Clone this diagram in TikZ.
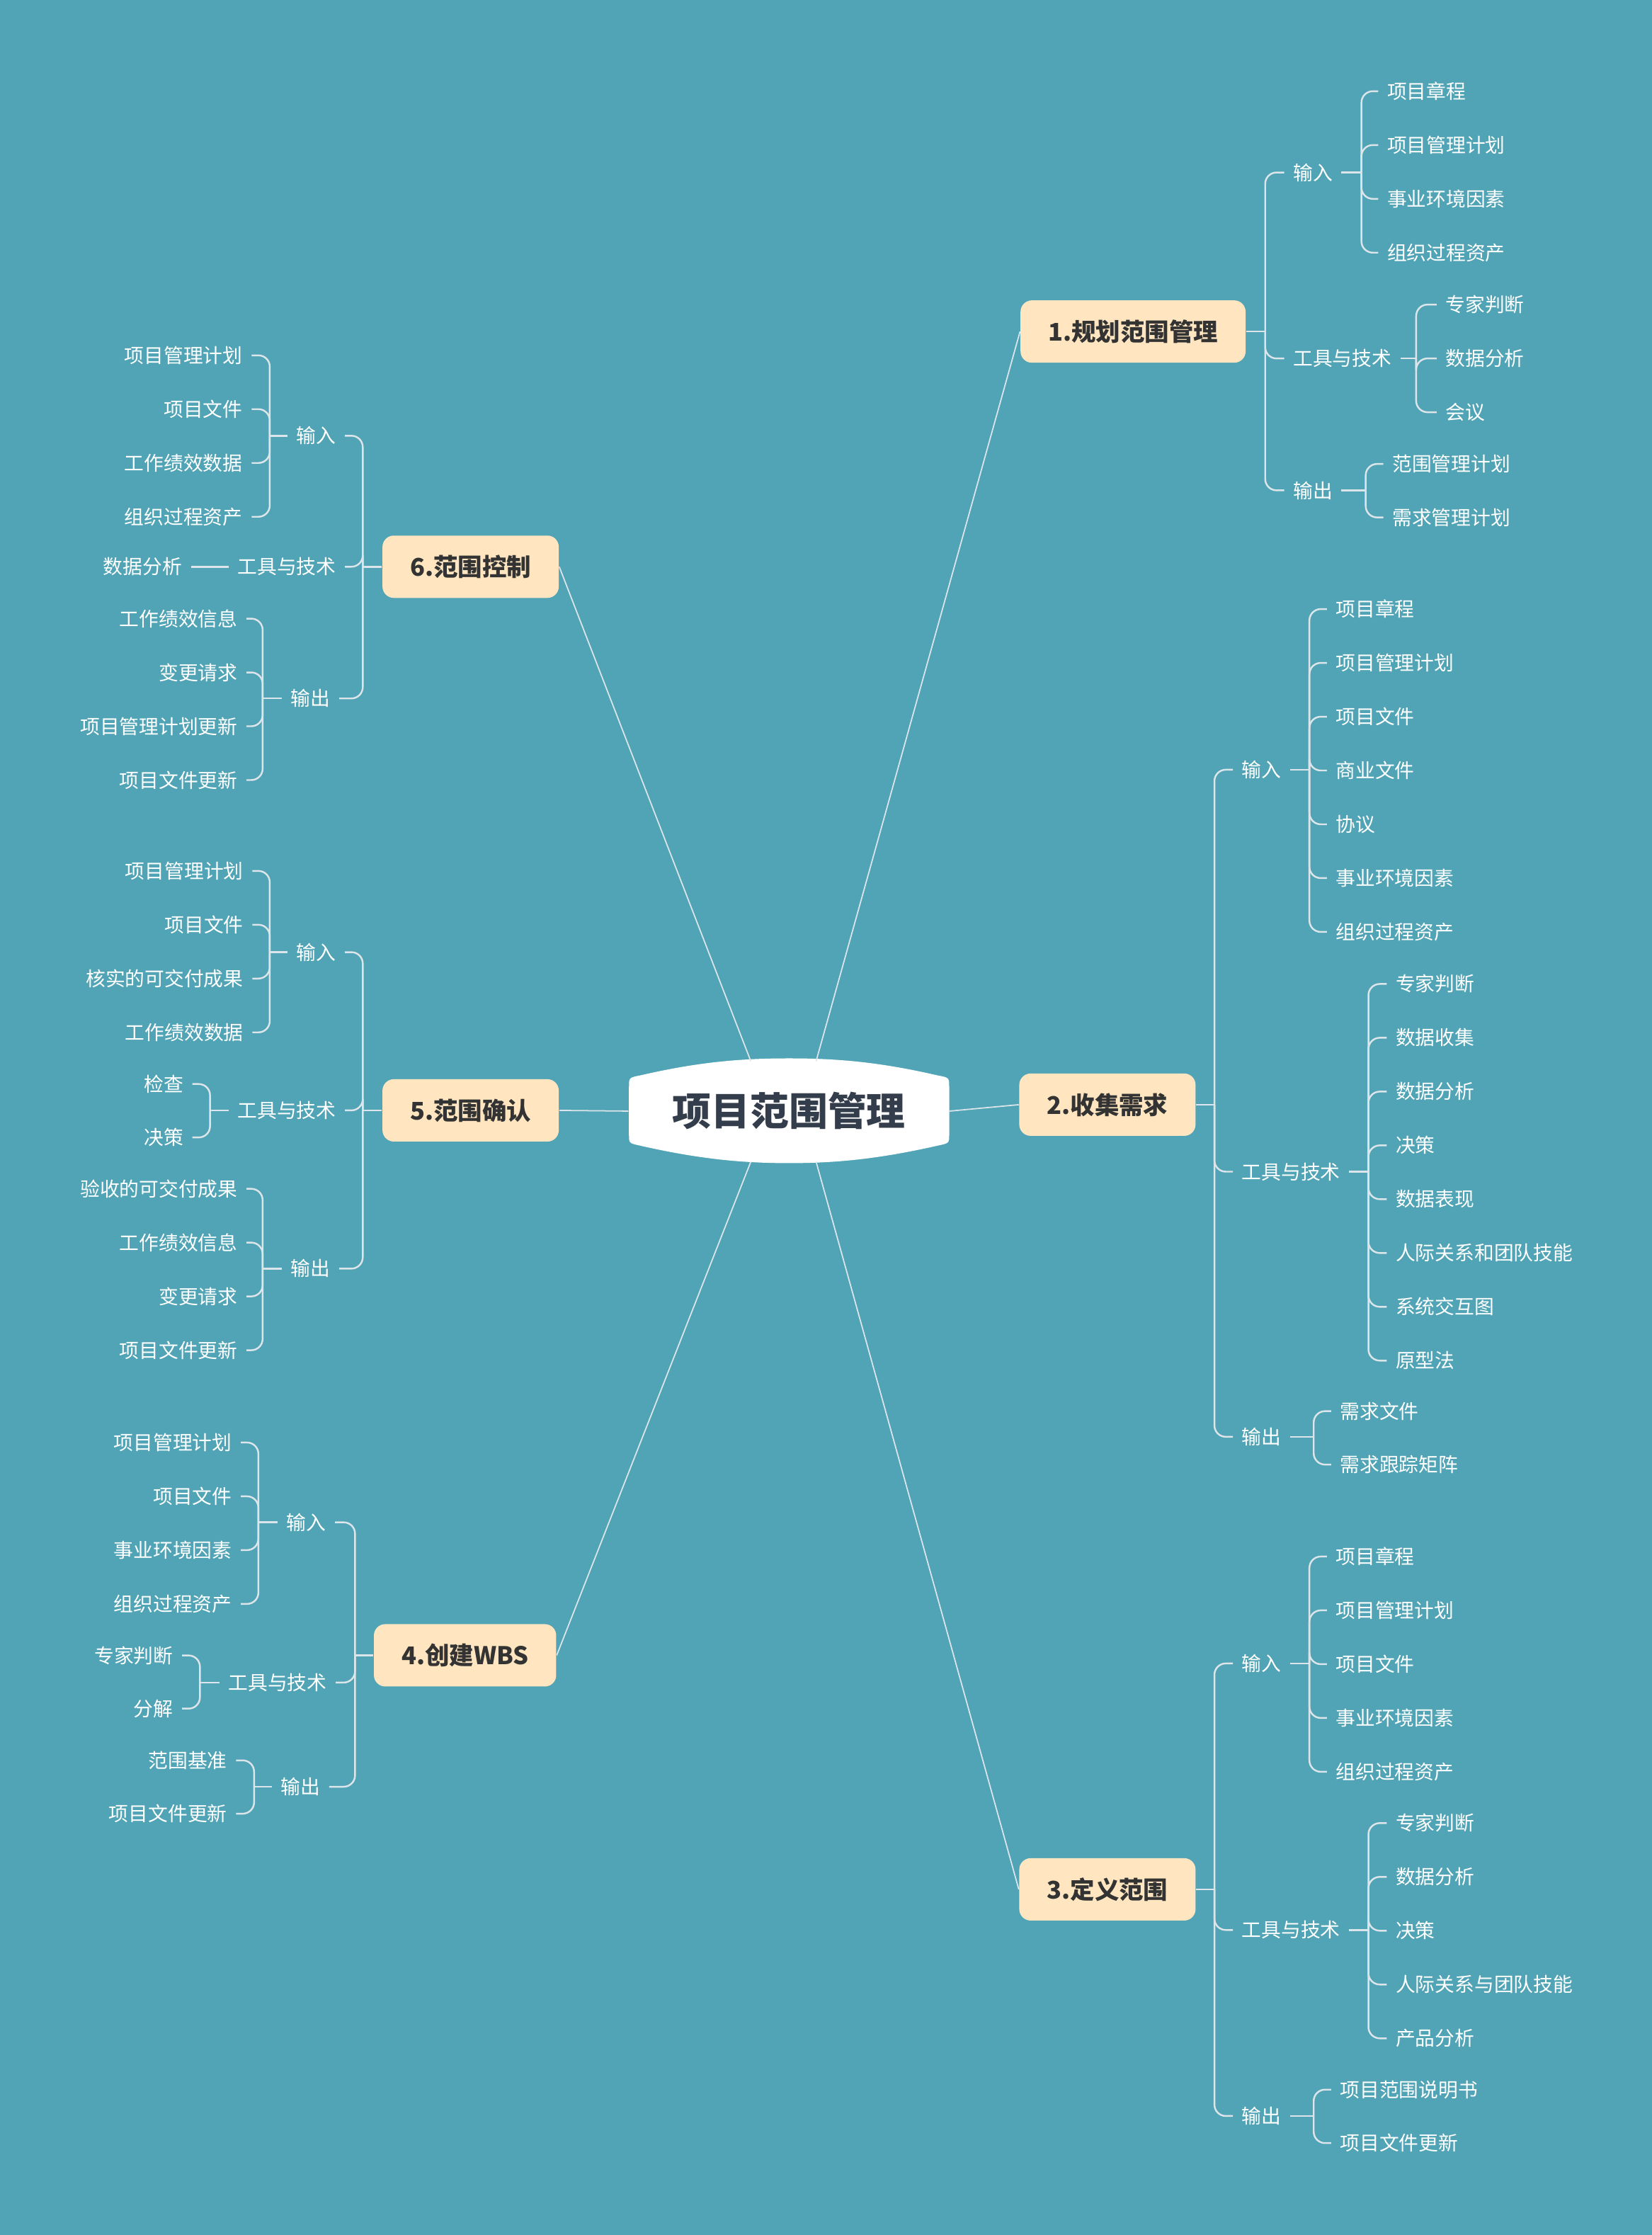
\documentclass[tikz,border=0pt]{standalone}
\usepackage{fontspec}
\setmainfont{Noto Sans CJK SC}
\definecolor{sea}{HTML}{51A4B5}
\definecolor{peach}{HTML}{FFE6C0}
\definecolor{ink}{HTML}{333333}
\definecolor{slate}{HTML}{343D4B}
\definecolor{wire}{HTML}{DCE5E9}

\begin{document}
\begin{tikzpicture}[x=0.2012mm,y=-0.2012mm]
  \tikzstyle{topic}=[minimum width=45.2mm,text=slate,font=\fontsize{15.6pt}{18pt}\selectfont\bfseries]
  \tikzstyle{stage}=[fill=peach,rounded corners=1.6mm,minimum height=8.8mm,inner xsep=3.9mm,text=ink,font=\fontsize{9.8pt}{11pt}\selectfont\bfseries]
  \tikzstyle{part}=[inner xsep=1.2mm,inner ysep=0.5mm,text=white,font=\fontsize{7.9pt}{9pt}\selectfont]
  \tikzstyle{trunk}=[wire,line width=0.5pt]
  \tikzstyle{tie}=[wire,line width=0.7pt,rounded corners=1.6mm]

  \fill[sea] (0,0) rectangle (1159,1568);
  \useasboundingbox (0,0) rectangle (1159,1568);

  \fill[white] (441.3,763) .. controls (441.3,756) .. (449,754.5)
    .. controls (490,745) and (520,742.5) .. (553.6,742.5)
    .. controls (587,742.5) and (617,745) .. (658,754.5)
    .. controls (666,756) .. (666,763) -- (666,796)
    .. controls (666,802) .. (658,803.7)
    .. controls (617,813) and (587,816) .. (553.6,816)
    .. controls (520,816) and (490,813) .. (449,803.7)
    .. controls (441.3,802) .. (441.3,796) -- cycle;
  \node[topic] (root) at (553.6,779.5) {项目范围管理};
  \coordinate (rootnw) at (526.8,744.5);
  \coordinate (rootne) at (572.6,744.5);
  \coordinate (rootsw) at (526.8,815);
  \coordinate (rootse) at (572.6,815);

  \node[stage] (n1) at (795,232.6) {1.规划范围管理};
  \node[stage] (n2) at (777,775) {2.收集需求};
  \node[stage] (n3) at (777,1325.5) {3.定义范围};
  \node[stage] (n4) at (326.3,1161.3) {4.创建WBS};
  \node[stage] (n5) at (330.2,779) {5.范围确认};
  \node[stage] (n6) at (330.2,397.6) {6.范围控制};
  \draw[trunk] (rootne) -- (n1.west);
  \draw[trunk] (root.east) -- (n2.west);
  \draw[trunk] (rootse) -- (n3.west);
  \draw[trunk] (rootsw) -- (n4.east);
  \draw[trunk] (root.west) -- (n5.east);
  \draw[trunk] (rootnw) -- (n6.east);

  % 1
  \node[part,anchor=west] (n1in) at (901,121) {输入};
  \node[part,anchor=west] (n1tt) at (901,251.5) {工具与技术};
  \node[part,anchor=west] (n1out) at (901,344) {输出};
  \draw[tie] (n1.east) -- ++(13.4,0) coordinate (b1);
  \foreach \p in {n1in,n1tt,n1out} \draw[tie] (b1) |- (\p.west);
  \draw[tie] (n1in.east) -- ++(14,0) coordinate (b1in);
  \foreach \t [count=\i] in {项目章程,项目管理计划,事业环境因素,组织过程资产} {
    \node[part,anchor=west] (n1in\i) at (967,{64+37.75*(\i-1)}) {\t};
    \draw[tie] (b1in) |- (n1in\i.west);
  }
  \draw[tie] (n1tt.east) -- ++(11,0) coordinate (b1tt);
  \foreach \t [count=\i] in {专家判断,数据分析,会议} {
    \node[part,anchor=west] (n1tt\i) at (1008,{213.7+37.75*(\i-1)}) {\t};
    \draw[tie] (b1tt) |- (n1tt\i.west);
  }
  \draw[tie] (n1out.east) -- ++(17,0) coordinate (b1out);
  \foreach \t [count=\i] in {范围管理计划,需求管理计划} {
    \node[part,anchor=west] (n1out\i) at (970.6,{325.5+37.5*(\i-1)}) {\t};
    \draw[tie] (b1out) |- (n1out\i.west);
  }

  % 2
  \node[part,anchor=west] (n2in) at (865,540) {输入};
  \node[part,anchor=west] (n2tt) at (865,822) {工具与技术};
  \node[part,anchor=west] (n2out) at (865,1008) {输出};
  \draw[tie] (n2.east) -- ++(12.9,0) coordinate (b2);
  \foreach \p in {n2in,n2tt,n2out} \draw[tie] (b2) |- (\p.west);
  \draw[tie] (n2in.east) -- ++(13.5,0) coordinate (b2in);
  \foreach \t [count=\i] in {项目章程,项目管理计划,项目文件,商业文件,协议,事业环境因素,组织过程资产} {
    \node[part,anchor=west] (n2in\i) at (931,{427.3+37.75*(\i-1)}) {\t};
    \draw[tie] (b2in) |- (n2in\i.west);
  }
  \draw[tie] (n2tt.east) -- ++(13.5,0) coordinate (b2tt);
  \foreach \t [count=\i] in {专家判断,数据收集,数据分析,决策,数据表现,人际关系和团队技能,系统交互图,原型法} {
    \node[part,anchor=west] (n2tt\i) at (973,{690.3+37.75*(\i-1)}) {\t};
    \draw[tie] (b2tt) |- (n2tt\i.west);
  }
  \draw[tie] (n2out.east) -- ++(16.5,0) coordinate (b2out);
  \foreach \t [count=\i] in {需求文件,需求跟踪矩阵} {
    \node[part,anchor=west] (n2out\i) at (934,{990+37.5*(\i-1)}) {\t};
    \draw[tie] (b2out) |- (n2out\i.west);
  }

  % 3
  \node[part,anchor=west] (n3in) at (865,1167) {输入};
  \node[part,anchor=west] (n3tt) at (865,1354) {工具与技术};
  \node[part,anchor=west] (n3out) at (865,1484.5) {输出};
  \draw[tie] (n3.east) -- ++(12.9,0) coordinate (b3);
  \foreach \p in {n3in,n3tt,n3out} \draw[tie] (b3) |- (\p.west);
  \draw[tie] (n3in.east) -- ++(13.5,0) coordinate (b3in);
  \foreach \t [count=\i] in {项目章程,项目管理计划,项目文件,事业环境因素,组织过程资产} {
    \node[part,anchor=west] (n3in\i) at (931,{1092+37.75*(\i-1)}) {\t};
    \draw[tie] (b3in) |- (n3in\i.west);
  }
  \draw[tie] (n3tt.east) -- ++(13.5,0) coordinate (b3tt);
  \foreach \t [count=\i] in {专家判断,数据分析,决策,人际关系与团队技能,产品分析} {
    \node[part,anchor=west] (n3tt\i) at (973,{1279+37.75*(\i-1)}) {\t};
    \draw[tie] (b3tt) |- (n3tt\i.west);
  }
  \draw[tie] (n3out.east) -- ++(16.5,0) coordinate (b3out);
  \foreach \t [count=\i] in {项目范围说明书,项目文件更新} {
    \node[part,anchor=west] (n3out\i) at (934,{1466+37.5*(\i-1)}) {\t};
    \draw[tie] (b3out) |- (n3out\i.west);
  }

  % 4
  \node[part,anchor=east] (n4in) at (235,1068) {输入};
  \node[part,anchor=east] (n4tt) at (235.6,1180.4) {工具与技术};
  \node[part,anchor=east] (n4out) at (231,1253.5) {输出};
  \draw[tie] (n4.west) -- ++(-12.9,0) coordinate (b4);
  \foreach \p in {n4in,n4tt,n4out} \draw[tie] (b4) |- (\p.east);
  \draw[tie] (n4in.west) -- ++(-13.5,0) coordinate (b4in);
  \foreach \t [count=\i] in {项目管理计划,项目文件,事业环境因素,组织过程资产} {
    \node[part,anchor=east] (n4in\i) at (169,{1012+37.75*(\i-1)}) {\t};
    \draw[tie] (b4in) |- (n4in\i.east);
  }
  \draw[tie] (n4tt.west) -- ++(-13.7,0) coordinate (b4tt);
  \foreach \t [count=\i] in {专家判断,分解} {
    \node[part,anchor=east] (n4tt\i) at (127.8,{1161.4+37.3*(\i-1)}) {\t};
    \draw[tie] (b4tt) |- (n4tt\i.east);
  }
  \draw[tie] (n4out.west) -- ++(-12.5,0) coordinate (b4out);
  \foreach \t [count=\i] in {范围基准,项目文件更新} {
    \node[part,anchor=east] (n4out\i) at (165.6,{1235+37.4*(\i-1)}) {\t};
    \draw[tie] (b4out) |- (n4out\i.east);
  }

  % 5
  \node[part,anchor=east] (n5in) at (242,668) {输入};
  \node[part,anchor=east] (n5tt) at (242,779) {工具与技术};
  \node[part,anchor=east] (n5out) at (238,890) {输出};
  \draw[tie] (n5.west) -- ++(-13.5,0) coordinate (b5);
  \foreach \p in {n5in,n5tt,n5out} \draw[tie] (b5) |- (\p.east);
  \draw[tie] (n5in.west) -- ++(-12.5,0) coordinate (b5in);
  \foreach \t [count=\i] in {项目管理计划,项目文件,核实的可交付成果,工作绩效数据} {
    \node[part,anchor=east] (n5in\i) at (177,{611+37.75*(\i-1)}) {\t};
    \draw[tie] (b5in) |- (n5in\i.east);
  }
  \draw[tie] (n5tt.west) -- ++(-13,0) coordinate (b5tt);
  \foreach \t [count=\i] in {检查,决策} {
    \node[part,anchor=east] (n5tt\i) at (135,{760.5+37.5*(\i-1)}) {\t};
    \draw[tie] (b5tt) |- (n5tt\i.east);
  }
  \draw[tie] (n5out.west) -- ++(-13.5,0) coordinate (b5out);
  \foreach \t [count=\i] in {验收的可交付成果,工作绩效信息,变更请求,项目文件更新} {
    \node[part,anchor=east] (n5out\i) at (173,{834+37.75*(\i-1)}) {\t};
    \draw[tie] (b5out) |- (n5out\i.east);
  }

  % 6
  \node[part,anchor=east] (n6in) at (242,305.7) {输入};
  \node[part,anchor=east] (n6tt) at (242,397.6) {工具与技术};
  \node[part,anchor=east] (n6out) at (238,490) {输出};
  \draw[tie] (n6.west) -- ++(-13.5,0) coordinate (b6);
  \foreach \p in {n6in,n6tt,n6out} \draw[tie] (b6) |- (\p.east);
  \draw[tie] (n6in.west) -- ++(-12.5,0) coordinate (b6in);
  \foreach \t [count=\i] in {项目管理计划,项目文件,工作绩效数据,组织过程资产} {
    \node[part,anchor=east] (n6in\i) at (176.5,{249.3+37.75*(\i-1)}) {\t};
    \draw[tie] (b6in) |- (n6in\i.east);
  }
  \node[part,anchor=east] (n6tt1) at (134,397.6) {数据分析};
  \draw[tie] (n6tt.west) -- (n6tt1.east);
  \draw[tie] (n6out.west) -- ++(-13.5,0) coordinate (b6out);
  \foreach \t [count=\i] in {工作绩效信息,变更请求,项目管理计划更新,项目文件更新} {
    \node[part,anchor=east] (n6out\i) at (173,{434+37.75*(\i-1)}) {\t};
    \draw[tie] (b6out) |- (n6out\i.east);
  }
\end{tikzpicture}
\end{document}
